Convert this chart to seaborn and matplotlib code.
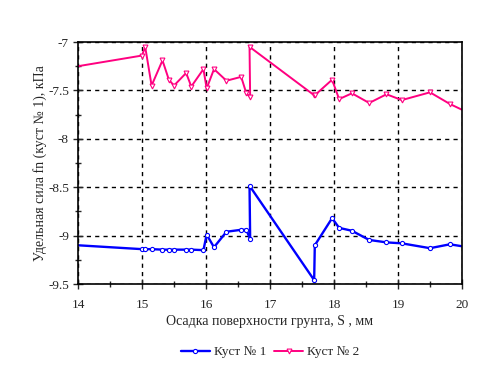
import matplotlib
matplotlib.use("Agg")
import matplotlib.pyplot as plt
import seaborn as sns
import pandas as pd
from matplotlib.ticker import MultipleLocator

settlement = [14.0, 15.0, 15.05, 15.15, 15.32, 15.42, 15.5, 15.69, 15.77, 15.96,
              16.01, 16.125, 16.32, 16.55, 16.63, 16.69, 16.68, 17.69, 17.70,
              17.97, 18.08, 18.28, 18.55, 18.82, 19.06, 19.5, 19.81, 20.0]
bush1 = [-9.10, -9.14, -9.14, -9.14, -9.145, -9.145, -9.145, -9.145, -9.145, -9.15,
         -8.99, -9.12, -8.96, -8.94, -8.94, -9.035, -8.485, -9.46, -9.10,
         -8.82, -8.92, -8.95, -9.045, -9.07, -9.08, -9.13, -9.09, -9.11]
bush2 = [-7.25, -7.14, -7.05, -7.45, -7.19, -7.39, -7.45, -7.32, -7.46, -7.28,
         -7.48, -7.28, -7.40, -7.36, -7.53, -7.57, -7.05, -7.55, -7.55,
         -7.39, -7.59, -7.53, -7.63, -7.54, -7.60, -7.52, -7.64, -7.70]
series_names = ["Куст № 1", "Куст № 2"]

sns.set_style("ticks")
plt.rcParams['font.family'] = ['Liberation Serif', 'DejaVu Serif']

fig = plt.figure(figsize=(4.88, 3.66), dpi=100)
ax = fig.add_axes([78/488, 1-284/366, (462-78)/488, (284-42)/366])

df1 = pd.DataFrame({"x": settlement, "y": bush1})
df2 = pd.DataFrame({"x": settlement, "y": bush2})
inner = slice(1, len(settlement) - 1)
sns.lineplot(data=df1, x="x", y="y", sort=False, estimator=None, ax=ax,
             color="#0000FF", lw=1.7, marker="o", ms=3, mfc="white",
             mec="#0000FF", mew=0.8, markevery=inner, label=series_names[0])
sns.lineplot(data=df2, x="x", y="y", sort=False, estimator=None, ax=ax,
             color="#FF0080", lw=1.4, marker="v", ms=3.5, mfc="white",
             mec="#FF0080", mew=0.8, markevery=inner, label=series_names[1])

ax.set_xlim(14, 20)
ax.set_ylim(-9.5, -7)
ax.xaxis.set_major_locator(MultipleLocator(1))
ax.xaxis.set_minor_locator(MultipleLocator(0.5))
ax.yaxis.set_minor_locator(MultipleLocator(0.25))
ax.set_yticks([-7, -7.5, -8, -8.5, -9, -9.5])
ax.set_yticklabels(["-7", "-7.5", "-8", "-8.5", "-9", "-9.5"])
ax.tick_params(which="major", direction="inout", length=7, width=1, labelsize=9.5)
ax.tick_params(axis="x", which="major", pad=7)
ax.tick_params(axis="y", which="major", pad=3)
ax.tick_params(which="minor", direction="inout", length=5, width=1)
ax.grid(True, which="major", color="black", linestyle=(0, (3, 3)), linewidth=1)
for s in ax.spines.values():
    s.set_color("black")
    s.set_linewidth(1.2)

ax.set_xlabel("Осадка поверхности грунта, S , мм", fontsize=10, labelpad=3)
ax.set_ylabel("Удельная сила fn (куст № 1), кПа", fontsize=10, labelpad=1)

ax.legend(loc="upper center", bbox_to_anchor=(0.5, -0.235), ncol=2, frameon=False,
          fontsize=9.5, handlelength=2.2, columnspacing=0.6, handletextpad=0.3,
          borderaxespad=0)

fig.savefig("out.png", dpi=100, facecolor="white")
